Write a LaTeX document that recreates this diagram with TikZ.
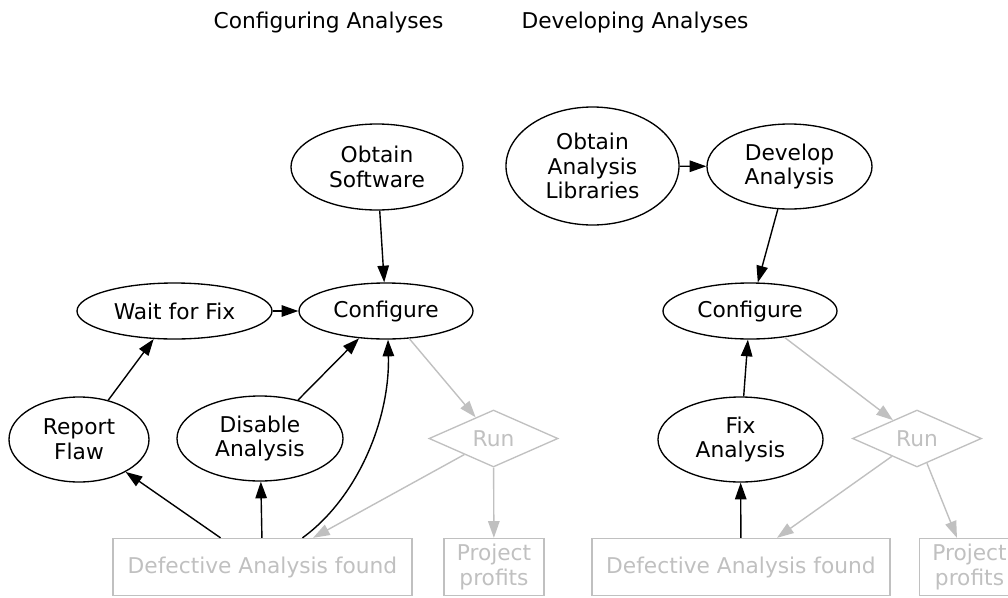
\documentclass[tikz,border=0pt]{standalone}
\usepackage{fontspec}
\setmainfont{DejaVu Sans}
\usetikzlibrary{shapes.geometric,arrows.meta,calc}
\definecolor{lgray}{HTML}{C0C0C0}
\begin{document}
\begin{tikzpicture}[x=0.75pt,y=-0.75pt,
  every node/.style={font=\fontsize{16.3}{18.5}\selectfont, inner sep=0pt, align=center},
  ell/.style={ellipse, draw, line width=1pt},
  grayc/.style={draw=lgray, text=lgray, line width=1pt},
  rbox/.style={rectangle, grayc, minimum height=42.75pt},
  rundia/.style={diamond, grayc, aspect=2.26, minimum width=96.75pt, minimum height=42.75pt},
  edge/.style={line width=1.05pt, -{Triangle[length=12.5pt,width=8.6pt]}},
  gedge/.style={edge, lgray},
]
\clip (0,0) rectangle (1008,597);
\useasboundingbox (0,0) rectangle (1008,597);

% titles
\node (t1) at (328.5,22) {Configuring Analyses};
\node (t2) at (635,22) {Developing Analyses};

% left cluster
\node[ell, minimum width=129pt, minimum height=64.5pt] (soft) at (377,167) {Obtain\\Software};
\node[ell, minimum width=130.5pt, minimum height=42pt] (confL) at (386,311) {Configure};
\node[ell, minimum width=146.25pt, minimum height=42pt] (wait) at (174.5,311) {Wait for Fix};
\node[ell, minimum width=105pt, minimum height=63.75pt] (report) at (79,439.5) {Report\\Flaw};
\node[ell, minimum width=124.5pt, minimum height=63.75pt] (disable) at (260,438.5) {Disable\\Analysis};
\node[rundia] (runL) at (493.5,438.5) {Run};
\node[rbox, minimum width=224.25pt] (defL) at (262.5,567) {Defective Analysis found};
\node[rbox, minimum width=75pt] (profL) at (494,567) {Project\\profits};

% right cluster
\node[ell, minimum width=129.75pt, minimum height=88.5pt] (libs) at (592.5,166) {Obtain\\Analysis\\Libraries};
\node[ell, minimum width=123.75pt, minimum height=63.75pt] (dev) at (789.5,166.5) {Develop\\Analysis};
\node[ell, minimum width=130.5pt, minimum height=42pt] (confR) at (750,311) {Configure};
\node[ell, minimum width=123.75pt, minimum height=63.75pt] (fix) at (740.5,439.5) {Fix\\Analysis};
\node[rundia] (runR) at (917,438.5) {Run};
\node[rbox, minimum width=223.5pt] (defR) at (741,567) {Defective Analysis found};
\node[rbox, minimum width=75pt] (profR) at (969.5,567) {Project\\profits};

% left edges
\draw[edge] (soft) -- (confL);
\draw[edge] (wait) -- (confL);
\draw[edge] (report) -- (wait);
\draw[edge] (disable) -- (confL);
\draw[edge] (defL) -- (report);
\draw[edge] (defL) -- (disable);
\draw[edge] ([xshift=30pt]defL.north) .. controls +(55,-40) and +(2,80) .. ([xshift=1.5pt]confL.south);
\draw[gedge] (confL) -- (runL);
\draw[gedge] (runL) -- ([xshift=37.9pt]defL.north);
\draw[gedge] (runL) -- (profL);

% right edges
\draw[edge] (libs) -- (dev);
\draw[edge] (dev) -- (confR);
\draw[edge] (fix) -- (confR);
\draw[edge] (defR) -- (fix);
\draw[gedge] (confR) -- (runR);
\draw[gedge] (runR) -- ([xshift=27pt]defR.north);
\draw[gedge] (runR) -- ([xshift=-9.4pt]profR.north);
\end{tikzpicture}
\end{document}
